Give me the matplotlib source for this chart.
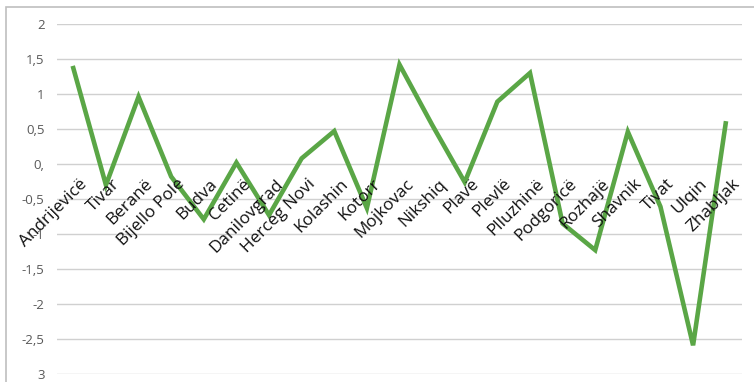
import matplotlib
matplotlib.use("Agg")
import matplotlib.pyplot as plt
from matplotlib.patches import Rectangle

categories = ["Andrijevicë", "Tivar", "Beranë", "Bijello Pole", "Budva", "Cetinë",
              "Danilovgrad", "Herceg Novi", "Kolashin", "Kotorr", "Mojkovac", "Nikshiq",
              "Plavë", "Plevlë", "Plluzhinë", "Podgoricë", "Rozhajë", "Shavnik", "Tivat",
              "Ulqin", "Zhabljak"]
values = [1.37, -0.30, 0.96, -0.18, -0.79, 0.02, -0.73, 0.08, 0.47, -0.63, 1.42, 0.56,
          -0.26, 0.89, 1.30, -0.85, -1.23, 0.46, -0.61, -2.59, 0.58]
ytick_values = [2, 1.5, 1, 0.5, 0, -0.5, -1, -1.5, -2, -2.5, -3]
ytick_labels = ["2", "1,5", "1", "0,5", "0,", "-0,5", "-1", "-1,5", "-2", "-2,5", "3"]

plt.rcParams['font.family'] = ['Open Sans', 'DejaVu Sans']

W, H = 754, 382
fig = plt.figure(figsize=(W / 100, H / 100), dpi=100)
fig.patches.append(Rectangle((6 / W, -0.1), 1.2, 1 - 7 / H + 0.1, transform=fig.transFigure,
                             fill=False, edgecolor='#BFBFBF', linewidth=1.2))

ax = fig.add_axes([57 / W, 1 - 374 / H, (742 - 57) / W, (374 - 24) / H])
x = list(range(len(categories)))
ax.plot(x, values, color='#5AA646', linewidth=3.3, solid_joinstyle='miter', zorder=3)
ax.set_xlim(-0.5, len(categories) - 0.5)
ax.set_ylim(-3, 2)
ax.set_yticks(ytick_values)
ax.set_yticklabels(ytick_labels)
ax.tick_params(axis='y', length=0, pad=9, labelsize=9.5, labelcolor='#595959')
ax.set_xticks([])
for s in ax.spines.values():
    s.set_visible(False)
ax.grid(axis='y', color='#D0D0D0', linewidth=1)
ax.set_axisbelow(True)

for i, name in enumerate(categories):
    ax.text(i + 0.18, -0.17, name, rotation=45, rotation_mode='anchor',
            ha='right', va='top', fontsize=12.3, color='#111111', zorder=4)

fig.savefig("out.png", dpi=100)
